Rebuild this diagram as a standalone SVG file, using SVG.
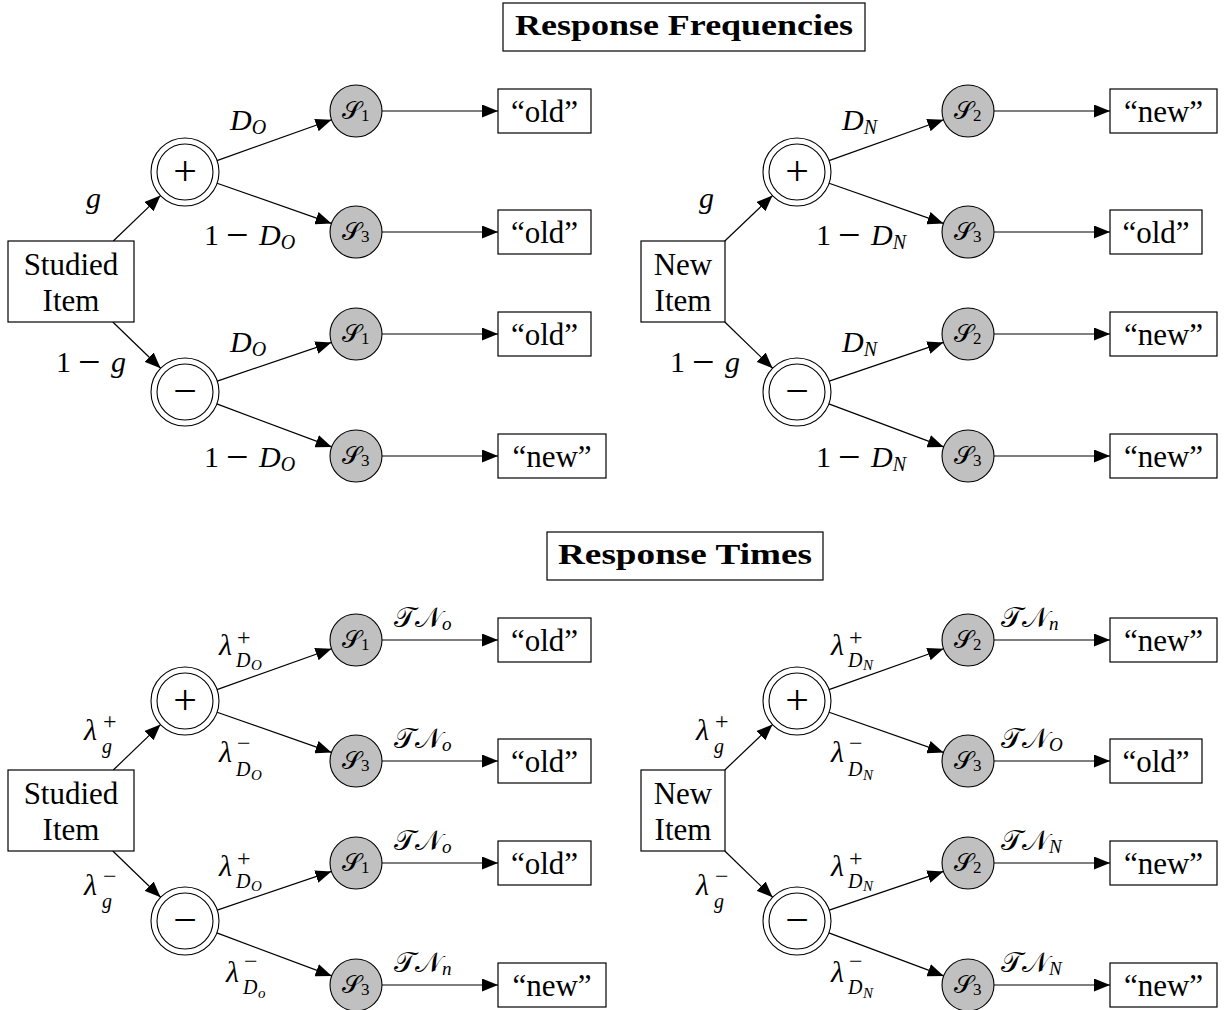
<svg xmlns="http://www.w3.org/2000/svg" width="1230" height="1010" viewBox="0 0 1230 1010">
<defs>
<marker id="ah" markerUnits="userSpaceOnUse" markerWidth="17" markerHeight="13" refX="16" refY="6.5" orient="auto"><path d="M0,0 L16,6.5 L0,13 z" fill="#000"/></marker>
<style>
text{font-family:"Liberation Serif","DejaVu Serif",serif;fill:#000}
.box{fill:#fff;stroke:#000;stroke-width:1.2}
.dc{fill:#fff;stroke:#000;stroke-width:1.1}
.sn{fill:#c0c0c0;stroke:#000;stroke-width:1.1}
.e{stroke:#000;stroke-width:1.2;fill:none;marker-end:url(#ah)}
.t{font-size:31px;text-anchor:middle}
.ttl{font-size:30px;font-weight:bold;text-anchor:middle}
.pm{font-size:42px;text-anchor:middle}
.sc{font-size:25px;font-family:"DejaVu Serif","Liberation Serif",serif}
.sub{font-size:17px}
.m{font-size:30px;font-style:italic}
.n{font-size:30px}
.mn{font-size:40px}
.ms{font-size:20px;font-style:italic}
.lam{font-size:30px;font-style:italic}
.sg{font-size:24px}
.i20{font-size:20px;font-style:italic}
.i15{font-size:15px;font-style:italic}
.i19{font-size:19px;font-style:italic}
.tn{font-size:28px;font-family:"DejaVu Serif","Liberation Serif",serif}
</style>
</defs>

<!-- Titles -->
<g id="title-freq"><rect class="box" x="503" y="3" width="362" height="48"/><text class="ttl" x="684" y="35" textLength="338" lengthAdjust="spacingAndGlyphs">Response Frequencies</text></g>
<g id="title-times"><rect class="box" x="547" y="532" width="276" height="48"/><text class="ttl" x="685" y="564" textLength="254" lengthAdjust="spacingAndGlyphs">Response Times</text></g>

<!-- Connectors -->
<g id="connectors">
<line class="e" x1="113.3" y1="241" x2="160.5" y2="195.6"/>
<line class="e" x1="112.8" y1="322" x2="160.6" y2="368.3"/>
<line class="e" x1="217" y1="160.6" x2="331.5" y2="119.7"/>
<line class="e" x1="217.1" y1="183.3" x2="331.5" y2="223.4"/>
<line class="e" x1="217.2" y1="381.1" x2="331.4" y2="342.4"/>
<line class="e" x1="216.8" y1="403.9" x2="331.7" y2="446.9"/>
<line class="e" x1="382" y1="111" x2="498" y2="111"/>
<line class="e" x1="382" y1="232" x2="498" y2="232"/>
<line class="e" x1="382" y1="334" x2="498" y2="334"/>
<line class="e" x1="382" y1="456" x2="498" y2="456"/>
<line class="e" x1="724.8" y1="241" x2="772.5" y2="195.6"/>
<line class="e" x1="724.8" y1="322" x2="772.6" y2="368.3"/>
<line class="e" x1="829" y1="160.6" x2="943.5" y2="119.7"/>
<line class="e" x1="829.1" y1="183.3" x2="943.5" y2="223.4"/>
<line class="e" x1="829.2" y1="381.1" x2="943.4" y2="342.4"/>
<line class="e" x1="828.8" y1="403.9" x2="943.7" y2="446.9"/>
<line class="e" x1="994" y1="111" x2="1110" y2="111"/>
<line class="e" x1="994" y1="232" x2="1110" y2="232"/>
<line class="e" x1="994" y1="334" x2="1110" y2="334"/>
<line class="e" x1="994" y1="456" x2="1110" y2="456"/>
<line class="e" x1="113.3" y1="770" x2="160.5" y2="724.6"/>
<line class="e" x1="112.8" y1="851" x2="160.6" y2="897.3"/>
<line class="e" x1="217" y1="689.6" x2="331.5" y2="648.7"/>
<line class="e" x1="217.1" y1="712.3" x2="331.5" y2="752.4"/>
<line class="e" x1="217.2" y1="910.1" x2="331.4" y2="871.4"/>
<line class="e" x1="216.8" y1="932.9" x2="331.7" y2="975.9"/>
<line class="e" x1="382" y1="640" x2="498" y2="640"/>
<line class="e" x1="382" y1="761" x2="498" y2="761"/>
<line class="e" x1="382" y1="863" x2="498" y2="863"/>
<line class="e" x1="382" y1="985" x2="498" y2="985"/>
<line class="e" x1="724.8" y1="770" x2="772.5" y2="724.6"/>
<line class="e" x1="724.8" y1="851" x2="772.6" y2="897.3"/>
<line class="e" x1="829" y1="689.6" x2="943.5" y2="648.7"/>
<line class="e" x1="829.1" y1="712.3" x2="943.5" y2="752.4"/>
<line class="e" x1="829.2" y1="910.1" x2="943.4" y2="871.4"/>
<line class="e" x1="828.8" y1="932.9" x2="943.7" y2="975.9"/>
<line class="e" x1="994" y1="640" x2="1110" y2="640"/>
<line class="e" x1="994" y1="761" x2="1110" y2="761"/>
<line class="e" x1="994" y1="863" x2="1110" y2="863"/>
<line class="e" x1="994" y1="985" x2="1110" y2="985"/>
</g>

<!-- Edge labels: top-left -->
<g id="labels-tl">
<text class="m" x="86" y="208">g</text>
<text x="230" y="130"><tspan class="m">D</tspan><tspan class="ms" dy="4">O</tspan></text>
<text x="204" y="245" class="n">1</text><text x="226" y="248" class="mn">−</text>
<text x="259" y="245"><tspan class="m">D</tspan><tspan class="ms" dy="4">O</tspan></text>
<text x="56" y="372" class="n">1</text><text x="78" y="375" class="mn">−</text><text x="111" y="372" class="m">g</text>
<text x="230" y="352"><tspan class="m">D</tspan><tspan class="ms" dy="4">O</tspan></text>
<text x="204" y="467" class="n">1</text><text x="226" y="470" class="mn">−</text>
<text x="259" y="467"><tspan class="m">D</tspan><tspan class="ms" dy="4">O</tspan></text>
</g>
<!-- Edge labels: top-right -->
<g id="labels-tr">
<text class="m" x="699" y="208">g</text>
<text x="842" y="130"><tspan class="m">D</tspan><tspan class="ms" dy="4">N</tspan></text>
<text x="816" y="245" class="n">1</text><text x="838" y="248" class="mn">−</text>
<text x="871" y="245"><tspan class="m">D</tspan><tspan class="ms" dy="4">N</tspan></text>
<text x="670" y="372" class="n">1</text><text x="692" y="375" class="mn">−</text><text x="725" y="372" class="m">g</text>
<text x="842" y="352"><tspan class="m">D</tspan><tspan class="ms" dy="4">N</tspan></text>
<text x="816" y="467" class="n">1</text><text x="838" y="470" class="mn">−</text>
<text x="871" y="467"><tspan class="m">D</tspan><tspan class="ms" dy="4">N</tspan></text>
</g>
<!-- Edge labels: bottom-left -->
<g id="labels-bl">
<text class="lam" x="84" y="740">λ</text><text class="sg" x="103" y="729">+</text><text class="i20" x="102" y="753">g</text>
<text class="lam" x="219" y="655">λ</text><text class="sg" x="237" y="645">+</text><text class="i20" x="236" y="667">D</text><text class="i15" x="251" y="670">O</text>
<text class="lam" x="219" y="762">λ</text><text class="sg" x="237" y="751">−</text><text class="i20" x="236" y="776">D</text><text class="i15" x="251" y="780">O</text>
<text class="lam" x="84" y="895">λ</text><text class="sg" x="103" y="884">−</text><text class="i20" x="102" y="908">g</text>
<text class="lam" x="219" y="876">λ</text><text class="sg" x="237" y="866">+</text><text class="i20" x="236" y="888">D</text><text class="i15" x="251" y="891">O</text>
<text class="lam" x="226" y="982">λ</text><text class="sg" x="244" y="969">−</text><text class="i20" x="243" y="994">D</text><text class="i15" x="258" y="998">o</text>
<text x="394" y="627"><tspan class="tn">𝒯𝒩</tspan><tspan class="i19" dy="3">o</tspan></text>
<text x="394" y="748"><tspan class="tn">𝒯𝒩</tspan><tspan class="i19" dy="3">o</tspan></text>
<text x="394" y="850"><tspan class="tn">𝒯𝒩</tspan><tspan class="i19" dy="3">o</tspan></text>
<text x="394" y="972"><tspan class="tn">𝒯𝒩</tspan><tspan class="i19" dy="3">n</tspan></text>
</g>
<!-- Edge labels: bottom-right -->
<g id="labels-br">
<text class="lam" x="696" y="740">λ</text><text class="sg" x="715" y="729">+</text><text class="i20" x="714" y="753">g</text>
<text class="lam" x="831" y="655">λ</text><text class="sg" x="849" y="645">+</text><text class="i20" x="848" y="667">D</text><text class="i15" x="863" y="670">N</text>
<text class="lam" x="831" y="762">λ</text><text class="sg" x="849" y="751">−</text><text class="i20" x="848" y="776">D</text><text class="i15" x="863" y="780">N</text>
<text class="lam" x="696" y="895">λ</text><text class="sg" x="715" y="884">−</text><text class="i20" x="714" y="908">g</text>
<text class="lam" x="831" y="876">λ</text><text class="sg" x="849" y="866">+</text><text class="i20" x="848" y="888">D</text><text class="i15" x="863" y="891">N</text>
<text class="lam" x="831" y="982">λ</text><text class="sg" x="849" y="969">−</text><text class="i20" x="848" y="994">D</text><text class="i15" x="863" y="998">N</text>
<text x="1001" y="627"><tspan class="tn">𝒯𝒩</tspan><tspan class="i19" dy="3">n</tspan></text>
<text x="1001" y="748"><tspan class="tn">𝒯𝒩</tspan><tspan class="i19" dy="3">O</tspan></text>
<text x="1001" y="850"><tspan class="tn">𝒯𝒩</tspan><tspan class="i19" dy="3">N</tspan></text>
<text x="1001" y="972"><tspan class="tn">𝒯𝒩</tspan><tspan class="i19" dy="3">N</tspan></text>
</g>

<!-- ===== Top-left nodes ===== -->
<g id="tl-item"><rect class="box" x="8" y="241" width="126" height="81"/><text class="t" x="71" y="275">Studied</text><text class="t" x="71" y="311">Item</text></g>
<g id="tl-plus"><circle class="dc" cx="185" cy="172" r="34"/><circle class="dc" cx="185" cy="172" r="28"/><text class="pm" x="185" y="185">+</text></g>
<g id="tl-minus"><circle class="dc" cx="185" cy="392" r="34"/><circle class="dc" cx="185" cy="392" r="28"/><text class="pm" x="185" y="405">−</text></g>
<g id="tl-s1a"><circle class="sn" cx="356" cy="111" r="26"/><text x="342" y="119"><tspan class="sc">𝒮</tspan><tspan class="sub" dy="2">1</tspan></text></g>
<g id="tl-s3a"><circle class="sn" cx="356" cy="232" r="26"/><text x="342" y="240"><tspan class="sc">𝒮</tspan><tspan class="sub" dy="2">3</tspan></text></g>
<g id="tl-s1b"><circle class="sn" cx="356" cy="334" r="26"/><text x="342" y="342"><tspan class="sc">𝒮</tspan><tspan class="sub" dy="2">1</tspan></text></g>
<g id="tl-s3b"><circle class="sn" cx="356" cy="456" r="26"/><text x="342" y="464"><tspan class="sc">𝒮</tspan><tspan class="sub" dy="2">3</tspan></text></g>
<g id="tl-o1"><rect class="box" x="498" y="89" width="93" height="44"/><text class="t" x="544.5" y="122">“old”</text></g>
<g id="tl-o2"><rect class="box" x="498" y="210" width="93" height="44"/><text class="t" x="544.5" y="243">“old”</text></g>
<g id="tl-o3"><rect class="box" x="498" y="312" width="93" height="44"/><text class="t" x="544.5" y="345">“old”</text></g>
<g id="tl-o4"><rect class="box" x="498" y="434" width="108" height="44"/><text class="t" x="552" y="467">“new”</text></g>

<!-- ===== Top-right nodes ===== -->
<g id="tr-item"><rect class="box" x="641" y="241" width="84" height="81"/><text class="t" x="683" y="275">New</text><text class="t" x="683" y="311">Item</text></g>
<g id="tr-plus"><circle class="dc" cx="797" cy="172" r="34"/><circle class="dc" cx="797" cy="172" r="28"/><text class="pm" x="797" y="185">+</text></g>
<g id="tr-minus"><circle class="dc" cx="797" cy="392" r="34"/><circle class="dc" cx="797" cy="392" r="28"/><text class="pm" x="797" y="405">−</text></g>
<g id="tr-s2a"><circle class="sn" cx="968" cy="111" r="26"/><text x="954" y="119"><tspan class="sc">𝒮</tspan><tspan class="sub" dy="2">2</tspan></text></g>
<g id="tr-s3a"><circle class="sn" cx="968" cy="232" r="26"/><text x="954" y="240"><tspan class="sc">𝒮</tspan><tspan class="sub" dy="2">3</tspan></text></g>
<g id="tr-s2b"><circle class="sn" cx="968" cy="334" r="26"/><text x="954" y="342"><tspan class="sc">𝒮</tspan><tspan class="sub" dy="2">2</tspan></text></g>
<g id="tr-s3b"><circle class="sn" cx="968" cy="456" r="26"/><text x="954" y="464"><tspan class="sc">𝒮</tspan><tspan class="sub" dy="2">3</tspan></text></g>
<g id="tr-o1"><rect class="box" x="1110" y="89" width="107" height="44"/><text class="t" x="1163.5" y="122">“new”</text></g>
<g id="tr-o2"><rect class="box" x="1110" y="210" width="92" height="44"/><text class="t" x="1156" y="243">“old”</text></g>
<g id="tr-o3"><rect class="box" x="1110" y="312" width="107" height="44"/><text class="t" x="1163.5" y="345">“new”</text></g>
<g id="tr-o4"><rect class="box" x="1110" y="434" width="107" height="44"/><text class="t" x="1163.5" y="467">“new”</text></g>

<!-- ===== Bottom-left nodes ===== -->
<g id="bl-item"><rect class="box" x="8" y="770" width="126" height="81"/><text class="t" x="71" y="804">Studied</text><text class="t" x="71" y="840">Item</text></g>
<g id="bl-plus"><circle class="dc" cx="185" cy="701" r="34"/><circle class="dc" cx="185" cy="701" r="28"/><text class="pm" x="185" y="714">+</text></g>
<g id="bl-minus"><circle class="dc" cx="185" cy="921" r="34"/><circle class="dc" cx="185" cy="921" r="28"/><text class="pm" x="185" y="934">−</text></g>
<g id="bl-s1a"><circle class="sn" cx="356" cy="640" r="26"/><text x="342" y="648"><tspan class="sc">𝒮</tspan><tspan class="sub" dy="2">1</tspan></text></g>
<g id="bl-s3a"><circle class="sn" cx="356" cy="761" r="26"/><text x="342" y="769"><tspan class="sc">𝒮</tspan><tspan class="sub" dy="2">3</tspan></text></g>
<g id="bl-s1b"><circle class="sn" cx="356" cy="863" r="26"/><text x="342" y="871"><tspan class="sc">𝒮</tspan><tspan class="sub" dy="2">1</tspan></text></g>
<g id="bl-s3b"><circle class="sn" cx="356" cy="985" r="26"/><text x="342" y="993"><tspan class="sc">𝒮</tspan><tspan class="sub" dy="2">3</tspan></text></g>
<g id="bl-o1"><rect class="box" x="498" y="618" width="93" height="44"/><text class="t" x="544.5" y="651">“old”</text></g>
<g id="bl-o2"><rect class="box" x="498" y="739" width="93" height="44"/><text class="t" x="544.5" y="772">“old”</text></g>
<g id="bl-o3"><rect class="box" x="498" y="841" width="93" height="44"/><text class="t" x="544.5" y="874">“old”</text></g>
<g id="bl-o4"><rect class="box" x="498" y="963" width="108" height="44"/><text class="t" x="552" y="996">“new”</text></g>

<!-- ===== Bottom-right nodes ===== -->
<g id="br-item"><rect class="box" x="641" y="770" width="84" height="81"/><text class="t" x="683" y="804">New</text><text class="t" x="683" y="840">Item</text></g>
<g id="br-plus"><circle class="dc" cx="797" cy="701" r="34"/><circle class="dc" cx="797" cy="701" r="28"/><text class="pm" x="797" y="714">+</text></g>
<g id="br-minus"><circle class="dc" cx="797" cy="921" r="34"/><circle class="dc" cx="797" cy="921" r="28"/><text class="pm" x="797" y="934">−</text></g>
<g id="br-s2a"><circle class="sn" cx="968" cy="640" r="26"/><text x="954" y="648"><tspan class="sc">𝒮</tspan><tspan class="sub" dy="2">2</tspan></text></g>
<g id="br-s3a"><circle class="sn" cx="968" cy="761" r="26"/><text x="954" y="769"><tspan class="sc">𝒮</tspan><tspan class="sub" dy="2">3</tspan></text></g>
<g id="br-s2b"><circle class="sn" cx="968" cy="863" r="26"/><text x="954" y="871"><tspan class="sc">𝒮</tspan><tspan class="sub" dy="2">2</tspan></text></g>
<g id="br-s3b"><circle class="sn" cx="968" cy="985" r="26"/><text x="954" y="993"><tspan class="sc">𝒮</tspan><tspan class="sub" dy="2">3</tspan></text></g>
<g id="br-o1"><rect class="box" x="1110" y="618" width="107" height="44"/><text class="t" x="1163.5" y="651">“new”</text></g>
<g id="br-o2"><rect class="box" x="1110" y="739" width="92" height="44"/><text class="t" x="1156" y="772">“old”</text></g>
<g id="br-o3"><rect class="box" x="1110" y="841" width="107" height="44"/><text class="t" x="1163.5" y="874">“new”</text></g>
<g id="br-o4"><rect class="box" x="1110" y="963" width="107" height="44"/><text class="t" x="1163.5" y="996">“new”</text></g>
</svg>
